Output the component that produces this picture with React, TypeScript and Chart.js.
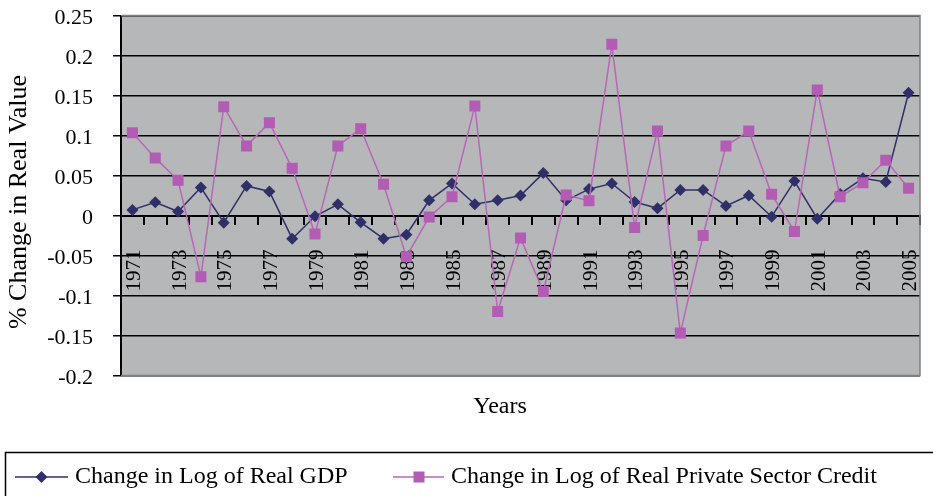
import React, { useEffect, useRef } from 'react';
import { Chart, registerables } from 'chart.js';

Chart.register(...registerables);

const years = [
  '1971', '1972', '1973', '1974', '1975', '1976', '1977', '1978', '1979', '1980',
  '1981', '1982', '1983', '1984', '1985', '1986', '1987', '1988', '1989', '1990',
  '1991', '1992', '1993', '1994', '1995', '1996', '1997', '1998', '1999', '2000',
  '2001', '2002', '2003', '2004', '2005',
];

const gdpChange = [
  0.007, 0.0165, 0.005, 0.035, -0.009, 0.037, 0.030, -0.029, -0.001, 0.014,
  -0.0085, -0.029, -0.024, 0.019, 0.040, 0.014, 0.019, 0.025, 0.053, 0.019,
  0.033, 0.040, 0.017, 0.009, 0.032, 0.032, 0.012, 0.025, -0.0015, 0.043,
  -0.004, 0.027, 0.0465, 0.042, 0.1535,
];

const creditChange = [
  0.1035, 0.072, 0.044, -0.0765, 0.136, 0.087, 0.116, 0.059, -0.023, 0.087,
  0.1085, 0.039, -0.0515, -0.002, 0.0235, 0.137, -0.120, -0.028, -0.095, 0.0255,
  0.0185, 0.214, -0.015, 0.1055, -0.147, -0.025, 0.087, 0.1055, 0.0265, -0.020,
  0.157, 0.0235, 0.041, 0.069, 0.034,
];

const gdpLabel = 'Change in Log of Real GDP';
const creditLabel = 'Change in Log of Real Private Sector Credit';
const yTitle = '% Change in Real Value';
const xTitle = 'Years';

const Y_MIN = -0.2;
const Y_MAX = 0.25;
const Y_STEP = 0.05;

const FONT = "'Liberation Serif', 'Times New Roman', serif";
const GDP_COLOR = '#2f3068';
const CREDIT_COLOR = '#b35cb3';
const CREDIT_LINE = '#b866b8';
const PLOT_BG = '#b6b7b9';

const decorPlugin = {
  id: 'decor',
  beforeDraw(chart: any) {
    const { ctx, chartArea: a } = chart;
    ctx.save();
    ctx.fillStyle = PLOT_BG;
    ctx.fillRect(a.left, a.top, a.right - a.left, a.bottom - a.top);
    ctx.restore();
  },
  beforeDatasetsDraw(chart: any) {
    const { ctx, chartArea: a } = chart;
    ctx.save();
    ctx.strokeStyle = '#808080';
    ctx.lineWidth = 1.5;
    ctx.beginPath();
    ctx.moveTo(a.left, a.top);
    ctx.lineTo(a.right, a.top);
    ctx.lineTo(a.right, a.bottom);
    ctx.lineTo(a.left, a.bottom);
    ctx.stroke();
    ctx.restore();
  },
  afterDraw(chart: any) {
    const { ctx } = chart;
    ctx.save();
    ctx.fillStyle = '#000';
    ctx.textAlign = 'center';
    ctx.textBaseline = 'middle';
    // y title
    ctx.font = `26px ${FONT}`;
    ctx.save();
    ctx.translate(19.5, 202);
    ctx.rotate(-Math.PI / 2);
    ctx.fillText(yTitle, 0, 0);
    ctx.restore();
    // x title
    ctx.font = `24px ${FONT}`;
    ctx.fillText(xTitle, 500, 407);

    // legend box
    ctx.strokeStyle = '#000';
    ctx.lineWidth = 1.5;
    ctx.strokeRect(5.5, 452.5, 940, 60);

    const ly = 477;
    // GDP entry
    ctx.strokeStyle = GDP_COLOR;
    ctx.lineWidth = 1.5;
    ctx.beginPath();
    ctx.moveTo(15, ly);
    ctx.lineTo(68, ly);
    ctx.stroke();
    ctx.fillStyle = GDP_COLOR;
    ctx.beginPath();
    ctx.moveTo(41.5, ly - 6);
    ctx.lineTo(47.5, ly);
    ctx.lineTo(41.5, ly + 6);
    ctx.lineTo(35.5, ly);
    ctx.closePath();
    ctx.fill();
    // credit entry
    ctx.strokeStyle = CREDIT_LINE;
    ctx.beginPath();
    ctx.moveTo(393, ly);
    ctx.lineTo(444, ly);
    ctx.stroke();
    ctx.fillStyle = CREDIT_COLOR;
    ctx.fillRect(413.5, ly - 5.5, 11, 11);

    ctx.fillStyle = '#000';
    ctx.textAlign = 'left';
    ctx.fillText(gdpLabel, 75, ly);
    ctx.fillText(creditLabel, 451, ly);
    ctx.restore();
  },
};

const zeroPadding = (scale: any) => {
  scale.paddingLeft = 0;
  scale.paddingRight = 0;
  scale.paddingTop = 0;
  scale.paddingBottom = 0;
};

export default function App() {
  const canvasRef = useRef<HTMLCanvasElement | null>(null);

  useEffect(() => {
    if (!canvasRef.current) return;
    const chart = new Chart(canvasRef.current, {
      type: 'line',
      data: {
        labels: years,
        datasets: [
          {
            label: gdpLabel,
            data: gdpChange,
            borderColor: GDP_COLOR,
            backgroundColor: GDP_COLOR,
            borderWidth: 1.5,
            pointStyle: 'rectRot',
            pointRadius: 6,
            pointBorderWidth: 0,
            pointBackgroundColor: GDP_COLOR,
            tension: 0,
            order: 2,
          },
          {
            label: creditLabel,
            data: creditChange,
            borderColor: CREDIT_LINE,
            backgroundColor: CREDIT_COLOR,
            borderWidth: 1.5,
            pointStyle: 'rect',
            pointRadius: 7.8,
            pointBorderWidth: 0,
            pointBackgroundColor: CREDIT_COLOR,
            tension: 0,
            order: 1,
          },
        ],
      },
      options: {
        responsive: false,
        animation: false,
        layout: { padding: { left: 0, top: 15.5, right: 13, bottom: 120.5 } },
        plugins: {
          legend: { display: false },
          tooltip: { enabled: false },
          title: { display: false },
        },
        scales: {
          x: {
            type: 'category',
            position: { y: 0 },
            offset: true,
            afterFit: (scale: any) => {
              zeroPadding(scale);
            },
            grid: {
              offset: true,
              drawOnChartArea: false,
              drawTicks: true,
              tickLength: 8,
              color: '#000',
              lineWidth: 2,
            },
            border: { display: true, color: '#000', width: 2 },
            ticks: {
              autoSkip: false,
              minRotation: 90,
              maxRotation: 90,
              padding: 26,
              labelOffset: 2,
              color: '#000',
              font: { family: FONT, size: 21 },
              callback: (_v: any, i: number) => (i % 2 === 0 ? years[i] : ''),
            },
          },
          y: {
            min: Y_MIN,
            max: Y_MAX,
            afterFit: (scale: any) => {
              scale.width = 121;
              zeroPadding(scale);
            },
            grid: {
              color: '#000',
              lineWidth: 1.5,
              tickLength: 8,
            },
            border: { display: true, color: '#000', width: 2 },
            ticks: {
              stepSize: Y_STEP,
              padding: 20,
              labelOffset: 3,
              color: '#000',
              font: { family: FONT, size: 22 },
              callback: (v: any) => String(parseFloat(Number(v).toFixed(2))),
            },
          },
        },
      },
      plugins: [decorPlugin],
    });
    return () => chart.destroy();
  }, []);

  return (
    <div style={{ position: 'fixed', left: 0, top: 0, width: 933, height: 496, background: '#fff' }}>
      <canvas ref={canvasRef} width={933} height={496} style={{ display: 'block' }} />
    </div>
  );
}
